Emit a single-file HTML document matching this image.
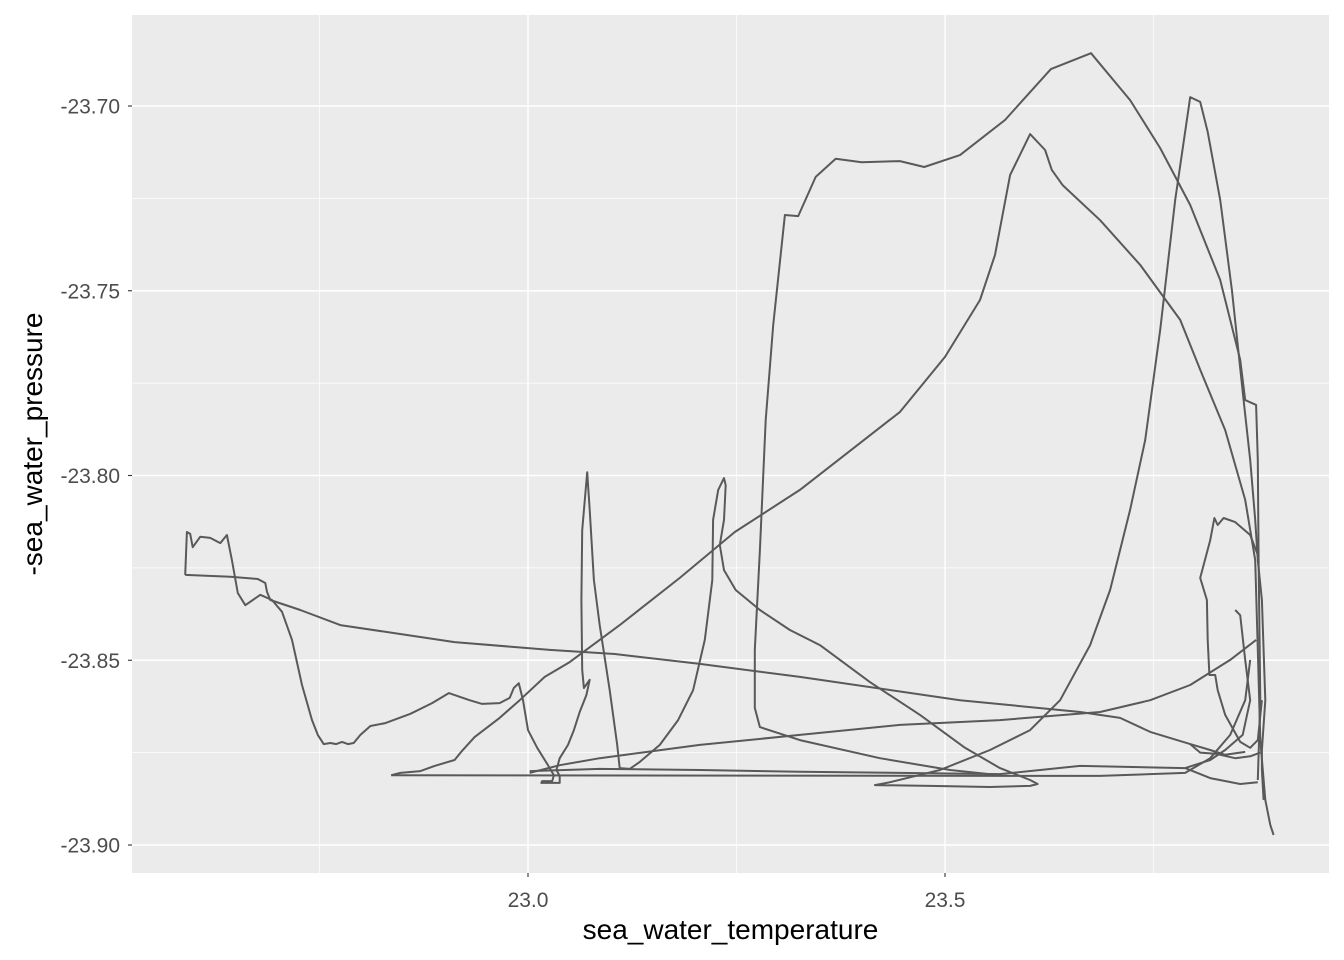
<!DOCTYPE html>
<html><head><meta charset="utf-8"><style>body{margin:0;background:#fff}svg{display:block;font-family:"Liberation Sans",sans-serif}</style></head>
<body>
<svg id="chart" width="1344" height="960"></svg>
<script>
const xTicks=[23.0,23.5];
const xTickLabels=["23.0","23.5"];
const xMinor=[22.75,23.25,23.75];
const yTicks=[-23.70,-23.75,-23.80,-23.85,-23.90];
const yTickLabels=["-23.70","-23.75","-23.80","-23.85","-23.90"];
const yMinor=[-23.675,-23.725,-23.775,-23.825,-23.875];
// segments of the trajectory: temperature and -pressure
const temp1=[22.589,22.643,22.676,22.685,22.687,22.691,22.727,22.775,22.912,23.026,23.104,23.206,23.326,23.518,23.662,23.710,23.746,23.794,23.818,23.836,23.860];
const pres1=[-23.8269,-23.8274,-23.8280,-23.8291,-23.8315,-23.8337,-23.8364,-23.8405,-23.8451,-23.8472,-23.8483,-23.8510,-23.8545,-23.8608,-23.8640,-23.8656,-23.8694,-23.8727,-23.8743,-23.8756,-23.8748];
const temp2=[22.589,22.591,22.595,22.598,22.607,22.619,22.631,22.639,22.645,22.652,22.661,22.679,22.693,22.705,22.717,22.729,22.741,22.748,22.755,22.763,22.770,22.777,22.784,22.791,22.799,22.811,22.829,22.859,22.885,22.905,22.930,22.945,22.966,22.978,22.983,22.989,22.994,23.000,23.011,23.024,23.031,23.029,23.017,23.016,23.038,23.038,23.034,23.038,23.048,23.055,23.062,23.070,23.074,23.067,23.065,23.064,23.065,23.071,23.074,23.079,23.086,23.098,23.107,23.110,23.122,23.134,23.158,23.180,23.198,23.212,23.221,23.222,23.228,23.235,23.237,23.235,23.230,23.235,23.249,23.278,23.314,23.350,23.410,23.470,23.524,23.566,23.602,23.611,23.602,23.554,23.482,23.416,23.434,23.494,23.554,23.602,23.638,23.674,23.698,23.722,23.740,23.758,23.776,23.794,23.806,23.815,23.830,23.844,23.858,23.866,23.872,23.875,23.880,23.884,23.880,23.880,23.882];
const pres2=[-23.8269,-23.8153,-23.8158,-23.8194,-23.8166,-23.8169,-23.8183,-23.8161,-23.8229,-23.8318,-23.8351,-23.8323,-23.8337,-23.8369,-23.8445,-23.8567,-23.8662,-23.8702,-23.8727,-23.8724,-23.8727,-23.8721,-23.8727,-23.8724,-23.8702,-23.8678,-23.8670,-23.8645,-23.8616,-23.8589,-23.8608,-23.8618,-23.8616,-23.8602,-23.8575,-23.8562,-23.8608,-23.8689,-23.8737,-23.8784,-23.8811,-23.8827,-23.8827,-23.8832,-23.8832,-23.8813,-23.8797,-23.8765,-23.8729,-23.8689,-23.8640,-23.8594,-23.8553,-23.8575,-23.8526,-23.8337,-23.8148,-23.7991,-23.8093,-23.8283,-23.8405,-23.8581,-23.8729,-23.8792,-23.8794,-23.8775,-23.8729,-23.8662,-23.8581,-23.8445,-23.8283,-23.8120,-23.8039,-23.8007,-23.8026,-23.8120,-23.8188,-23.8256,-23.8310,-23.8364,-23.8418,-23.8459,-23.8559,-23.8648,-23.8737,-23.8792,-23.8824,-23.8835,-23.8840,-23.8843,-23.8840,-23.8838,-23.8830,-23.8797,-23.8743,-23.8689,-23.8608,-23.8459,-23.8310,-23.8093,-23.7904,-23.7606,-23.7254,-23.6976,-23.6989,-23.7070,-23.7254,-23.7498,-23.7796,-23.7958,-23.8120,-23.8229,-23.8337,-23.8608,-23.8743,-23.8797,-23.8878];
const temp3=[22.836,22.847,22.871,22.888,22.912,22.921,22.936,22.966,22.990,23.020,23.050,23.110,23.182,23.248,23.326,23.446,23.500,23.542,23.560,23.578,23.602,23.620,23.628,23.641,23.686,23.734,23.782,23.806,23.836,23.860,23.872,23.875,23.878,23.884,23.890,23.894];
const pres3=[-23.8811,-23.8805,-23.8800,-23.8786,-23.8770,-23.8745,-23.8708,-23.8656,-23.8608,-23.8545,-23.8505,-23.8405,-23.8277,-23.8153,-23.8039,-23.7828,-23.7679,-23.7525,-23.7403,-23.7187,-23.7076,-23.7119,-23.7173,-23.7214,-23.7309,-23.7430,-23.7579,-23.7714,-23.7877,-23.8066,-23.8229,-23.8472,-23.8716,-23.8878,-23.8946,-23.8973];
const temp4=[23.566,23.506,23.422,23.326,23.278,23.272,23.272,23.278,23.285,23.294,23.308,23.324,23.345,23.369,23.400,23.446,23.475,23.518,23.572,23.627,23.675,23.722,23.758,23.794,23.830,23.854,23.860,23.873,23.875,23.876,23.878,23.875];
const pres4=[-23.8811,-23.8797,-23.8765,-23.8716,-23.8681,-23.8629,-23.8472,-23.8202,-23.7850,-23.7593,-23.7295,-23.7298,-23.7192,-23.7143,-23.7152,-23.7149,-23.7165,-23.7133,-23.7038,-23.6900,-23.6857,-23.6984,-23.7114,-23.7268,-23.7471,-23.7687,-23.7796,-23.7809,-23.7958,-23.8229,-23.8608,-23.8824];
const temp5=[22.836,23.686,23.788,23.818,23.842,23.860,23.866];
const pres5=[-23.8811,-23.8813,-23.8805,-23.8765,-23.8702,-23.8608,-23.8499];
const temp6=[23.002,23.086,23.206,23.326,23.446,23.566,23.662,23.788,23.818,23.854,23.875];
const pres6=[-23.8800,-23.8794,-23.8797,-23.8802,-23.8805,-23.8808,-23.8786,-23.8792,-23.8819,-23.8835,-23.8830];
const temp7=[23.002,23.038,23.086,23.206,23.326,23.446,23.566,23.686,23.746,23.794,23.842,23.873];
const pres7=[-23.8805,-23.8784,-23.8765,-23.8729,-23.8702,-23.8675,-23.8662,-23.8640,-23.8608,-23.8567,-23.8499,-23.8445];
const temp8=[23.875,23.866,23.848,23.834,23.827,23.823,23.818,23.806,23.814,23.815,23.817,23.824,23.827,23.836,23.854,23.866,23.875,23.880];
const pres8=[-23.8215,-23.8161,-23.8126,-23.8115,-23.8134,-23.8115,-23.8175,-23.8277,-23.8337,-23.8445,-23.8540,-23.8540,-23.8581,-23.8648,-23.8721,-23.8737,-23.8716,-23.8608];
const temp9=[23.848,23.854,23.860,23.866,23.857,23.836,23.818,23.788];
const pres9=[-23.8364,-23.8378,-23.8499,-23.8608,-23.8702,-23.8743,-23.8770,-23.8792];
const temp10=[23.794,23.806,23.824,23.848,23.866,23.878];
const pres10=[-23.8727,-23.8750,-23.8753,-23.8765,-23.8760,-23.8750];

const L=132,R=1329,T=15,B=873;
const xs=v=>528+(v-23)*834;
const ys=v=>106+(-23.70-v)*3695;
const NS="http://www.w3.org/2000/svg";
const svg=document.getElementById('chart');
function mk(tag,attrs,parent){const e=document.createElementNS(NS,tag);for(const k in attrs)e.setAttribute(k,attrs[k]);(parent||svg).appendChild(e);return e;}
const panel=mk('rect',{x:L,y:T,width:R-L,height:B-T,fill:'#EBEBEB'});


const grid=mk('g',{});


xMinor.forEach(v=>mk('line',{x1:xs(v),x2:xs(v),y1:T,y2:B,stroke:'#fff','stroke-width':0.7},grid));
yMinor.forEach(v=>{const y=ys(v);if(y>T&&y<B)mk('line',{x1:L,x2:R,y1:y,y2:y,stroke:'#fff','stroke-width':0.7},grid);});
xTicks.forEach(v=>mk('line',{x1:xs(v),x2:xs(v),y1:T,y2:B,stroke:'#fff','stroke-width':1.4},grid));
yTicks.forEach(v=>mk('line',{x1:L,x2:R,y1:ys(v),y2:ys(v),stroke:'#fff','stroke-width':1.4},grid));
const series=[[temp1,pres1],[temp2,pres2],[temp3,pres3],[temp4,pres4],[temp5,pres5],[temp6,pres6],[temp7,pres7],[temp8,pres8],[temp9,pres9],[temp10,pres10]];
series.forEach((s,i)=>{
  const d=s[0].map((t,j)=>(j?'L':'M')+xs(t).toFixed(1)+','+ys(s[1][j]).toFixed(1)).join('');
  const p=mk('path',{d:d,fill:'none',stroke:'#595959','stroke-width':2,'stroke-linejoin':'round'});
  
  
});
xTicks.forEach((v,i)=>{
  mk('line',{x1:xs(v),x2:xs(v),y1:B,y2:B+4,stroke:'#333','stroke-width':1.1});
  const t=mk('text',{x:xs(v),y:B+34,'text-anchor':'middle','font-size':21,fill:'#4D4D4D'});
  t.textContent=xTickLabels[i];
  
  
});
yTicks.forEach((v,i)=>{
  mk('line',{x1:L-4,x2:L,y1:ys(v),y2:ys(v),stroke:'#333','stroke-width':1.1});
  const t=mk('text',{x:L-12,y:ys(v)+7.5,'text-anchor':'end','font-size':21,fill:'#4D4D4D'});
  t.textContent=yTickLabels[i];
  
  
});
const xt=mk('text',{x:(L+R)/2,y:939,'text-anchor':'middle','font-size':28,fill:'#000'});
xt.textContent='sea_water_temperature';


const yt=mk('text',{x:0,y:0,'text-anchor':'middle','font-size':28,fill:'#000',transform:'translate(42,'+((T+B)/2)+') rotate(-90)'});
yt.textContent='-sea_water_pressure';


</script>
</body></html>
